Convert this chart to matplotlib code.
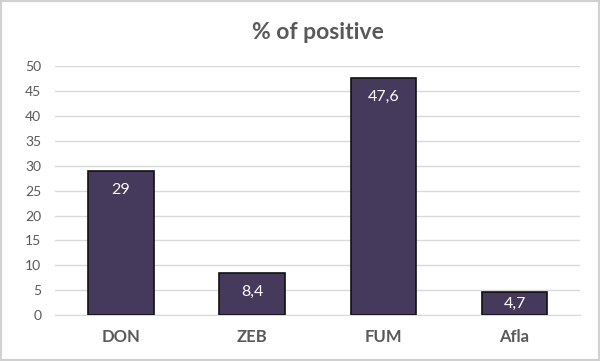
import matplotlib.pyplot as plt

categories = ['DON', 'ZEB', 'FUM', 'Afla']
values = [29, 8.4, 47.6, 4.7]
labels = ['29', '8,4', '47,6', '4,7']

plt.rcParams['font.family'] = ['Lato', 'DejaVu Sans']

fig = plt.figure(figsize=(6, 3.61), dpi=100)
ax = fig.add_axes([0.092, 0.127, 0.875, 0.69])

# figure border
fig.patches.append(plt.Rectangle((0.002, 0.003), 0.996, 0.994, transform=fig.transFigure,
                                 fill=False, edgecolor='#d0d0d0', linewidth=1.5))

x = range(len(categories))
ax.bar(x, values, width=0.5, color='#463a5c', edgecolor='#111111', linewidth=1.2, zorder=3)

for i, v in enumerate(values):
    y = max(v - 3.8, v / 2)
    ax.text(i, y, labels[i], ha='center', va='center', color='white', fontsize=11.5, zorder=4)

ax.set_xlim(-0.5, len(categories) - 0.5)
ax.set_ylim(0, 50)
ax.set_yticks(range(0, 51, 5))
ax.grid(axis='y', color='#d9d9d9', linewidth=1, zorder=0)
ax.set_xticks(list(x))
ax.set_xticklabels(categories, fontsize=12, fontweight='bold', color='#595959')
ax.tick_params(axis='y', labelsize=10, colors='#595959', length=0, pad=10)
ax.tick_params(axis='x', length=0, pad=10)
for s in ['top', 'right', 'left']:
    ax.spines[s].set_visible(False)
ax.spines['bottom'].set_color('#d9d9d9')

fig.suptitle('% of positive', x=0.53, y=0.94, fontsize=16.5, fontweight='bold', color='#595959')

plt.savefig('out.png', dpi=100)
